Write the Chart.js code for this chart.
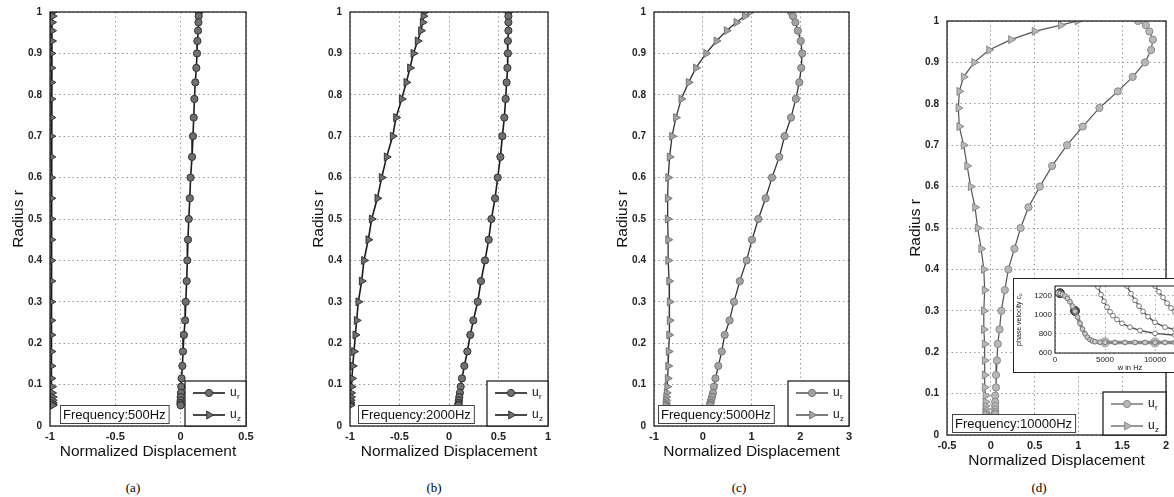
<!DOCTYPE html>
<html>
<head>
<meta charset="utf-8">
<script src="https://cdn.jsdelivr.net/npm/chart.js@4.4.1/dist/chart.umd.min.js"></script>
<style>
html,body{margin:0;padding:0;background:#fff;}
#wrap{position:relative;width:1174px;height:497px;overflow:hidden;background:#fff;}
canvas{position:absolute;}
.cap{position:absolute;top:480px;font:13px "Liberation Serif",serif;color:#000;transform:translateX(-50%);}
</style>
</head>
<body>
<div id="wrap">
  <canvas id="pa"></canvas>
  <canvas id="pb"></canvas>
  <canvas id="pc"></canvas>
  <canvas id="pd"></canvas>
  <canvas id="inset"></canvas>
  <div class="cap" style="left:133px">(a)</div>
  <div class="cap" style="left:434px">(b)</div>
  <div class="cap" style="left:739px">(c)</div>
  <div class="cap" style="left:1039px">(d)</div>
</div>
<script>
// radial grid (same for every panel)
const radius = [1.0, 0.99, 0.975, 0.955, 0.93, 0.90, 0.865, 0.83, 0.79, 0.745, 0.70, 0.65, 0.60, 0.55, 0.50, 0.45,
  0.40, 0.35, 0.30, 0.255, 0.22, 0.18, 0.145, 0.115, 0.095, 0.08, 0.07, 0.062, 0.056, 0.052, 0.05]

// (a) 500 Hz
const urA = [0.14, 0.138, 0.136, 0.133, 0.128, 0.125, 0.12, 0.112, 0.105, 0.1, 0.094, 0.087, 0.076, 0.07, 0.062, 0.056,
  0.051, 0.046, 0.039, 0.034, 0.025, 0.018, 0.013, 0.007, 0.004, 0.002, 0.0, 0.0, -0.002, 0.0, 0.0]
const uzA = [-0.98, -0.98, -0.985, -0.985, -0.985, -0.99, -0.99, -0.99, -0.99, -0.99, -0.99, -0.99, -0.99, -0.99, -0.99, -0.99,
  -0.99, -0.99, -0.99, -0.99, -0.99, -0.99, -0.99, -0.99, -0.985, -0.985, -0.98, -0.98, -0.98, -0.98, -0.98]

// (b) 2000 Hz
const urB = [0.60, 0.60, 0.60, 0.60, 0.595, 0.595, 0.59, 0.582, 0.572, 0.559, 0.539, 0.519, 0.492, 0.465, 0.428, 0.401,
  0.364, 0.323, 0.29, 0.246, 0.215, 0.185, 0.155, 0.131, 0.118, 0.11, 0.104, 0.1, 0.097, 0.095, 0.094]
const uzB = [-0.249, -0.258, -0.266, -0.283, -0.317, -0.36, -0.394, -0.431, -0.478, -0.535, -0.569, -0.63, -0.68, -0.724, -0.781, -0.815,
  -0.859, -0.882, -0.916, -0.933, -0.946, -0.96, -0.973, -0.98, -0.985, -0.99, -0.99, -0.993, -0.995, -0.996, -0.997]

// (c) 5000 Hz
const urC = [1.81, 1.85, 1.90, 1.95, 2.01, 2.04, 2.02, 1.98, 1.91, 1.81, 1.68, 1.57, 1.42, 1.29, 1.14, 1.01,
  0.90, 0.76, 0.64, 0.55, 0.45, 0.39, 0.32, 0.26, 0.23, 0.21, 0.19, 0.17, 0.16, 0.15, 0.15]
const uzC = [0.97, 0.86, 0.69, 0.49, 0.28, 0.07, -0.14, -0.29, -0.44, -0.55, -0.63, -0.68, -0.71, -0.72, -0.72, -0.71,
  -0.71, -0.69, -0.68, -0.68, -0.69, -0.70, -0.71, -0.72, -0.73, -0.74, -0.75, -0.75, -0.76, -0.76, -0.76]

// (d) 10000 Hz
const urD = [1.68, 1.77, 1.81, 1.85, 1.83, 1.76, 1.62, 1.45, 1.24, 1.05, 0.87, 0.70, 0.56, 0.43, 0.34, 0.27,
  0.20, 0.16, 0.12, 0.10, 0.08, 0.07, 0.06, 0.06, 0.05, 0.05, 0.05, 0.05, 0.05, 0.05, 0.05]
const uzD = [0.99, 0.80, 0.50, 0.23, -0.02, -0.19, -0.31, -0.36, -0.37, -0.36, -0.31, -0.27, -0.23, -0.18, -0.15, -0.11,
  -0.08, -0.07, -0.08, -0.08, -0.07, -0.07, -0.07, -0.07, -0.06, -0.06, -0.06, -0.06, -0.06, -0.06, -0.06]

const freqLabels = ["Frequency:500Hz", "Frequency:2000Hz", "Frequency:5000Hz", "Frequency:10000Hz"]

// inset: phase velocity vs frequency
const mode1F = [0, 250, 500, 750, 1000, 1250, 1500, 1750, 2000, 2250, 2500, 2750, 3000, 3250, 3500, 3750, 4000, 4500, 5000,
  6000, 7000, 8000, 9000, 10000, 11000, 12000, 13000, 14000, 15000]
const mode1C = [1230, 1228, 1222, 1212, 1195, 1170, 1135, 1090, 1035, 975, 910, 850, 800, 765, 740, 725, 718, 713, 712,
  711, 710, 710, 710, 710, 710, 710, 710, 710, 710]
const mode2F = [4300, 4600, 4900, 5200, 5500, 5800, 6200, 6700, 7500, 8500, 10000, 12000, 15000]
const mode2C = [1290, 1210, 1140, 1080, 1030, 990, 950, 910, 870, 835, 805, 785, 770]
const mode3F = [7200, 7600, 8000, 8400, 8800, 9300, 10000, 11000, 12000, 15000]
const mode3C = [1300, 1220, 1150, 1090, 1035, 980, 920, 870, 845, 800]
const mode4F = [10000, 10400, 10800, 11200, 11600, 12000, 13000, 15000]
const mode4C = [1300, 1240, 1180, 1120, 1070, 1030, 960, 880]
const markF = [500, 2000, 5000, 10000]
const markC = [1225, 1040, 712, 710]

Chart.defaults.font.family = '"Liberation Sans", Arial, sans-serif'
Chart.defaults.color = "#111"
Chart.defaults.animation = false

const Y_W = 45, X_H = 39, PAD_T = 8, PAD_R = 10

const pts = (xs, ys) => xs.map((x, i) => ({x: x, y: ys[i]}))
const fmt = v => String(+(+v).toFixed(2))

const decor = {
  id: "decor",
  beforeDraw(chart, args, opts){
    if(opts.bg){
      const ctx = chart.ctx
      ctx.save()
      ctx.fillStyle = "#fff"
      ctx.fillRect(0, 0, chart.width, opts.boxH)
      ctx.strokeStyle = "#222"
      ctx.lineWidth = 1
      ctx.strokeRect(0.5, 0.5, chart.width, opts.boxH - 1)
      ctx.restore()
    }
  },
  afterDraw(chart, args, opts){
    const ctx = chart.ctx
    const a = chart.chartArea
    ctx.save()
    ctx.strokeStyle = "#111"
    ctx.lineWidth = opts.frameW || 1.2
    ctx.strokeRect(a.left, a.top, a.right - a.left, a.bottom - a.top)

    if(opts.freq){
      ctx.font = '13px "Liberation Sans", Arial, sans-serif'
      const w = ctx.measureText(opts.freq).width + 6
      const x = a.left + opts.freqX
      const y = a.bottom - 21 + (opts.freqDy || 0)
      ctx.fillStyle = "#fff"
      ctx.fillRect(x, y, w, 18)
      ctx.strokeStyle = "#444"
      ctx.lineWidth = 1
      ctx.strokeRect(x + 0.5, y + 0.5, w, 18)
      ctx.fillStyle = "#111"
      ctx.textBaseline = "middle"
      ctx.fillText(opts.freq, x + 3, y + 10)
    }

    if(opts.legend){
      const lw = opts.legW, lh = opts.legH
      const x = a.right - lw, y = a.bottom - lh
      ctx.fillStyle = "#fff"
      ctx.fillRect(x, y, lw, lh)
      ctx.strokeStyle = "#111"
      ctx.lineWidth = 1.2
      ctx.strokeRect(x, y, lw, lh)
      chart.data.datasets.forEach((ds, i) => {
        const cy = y + 12 + i * 22
        ctx.strokeStyle = ds.borderColor
        ctx.lineWidth = ds.borderWidth
        ctx.beginPath()
        ctx.moveTo(x + 8, cy)
        ctx.lineTo(x + 40, cy)
        ctx.stroke()
        ctx.fillStyle = ds.pointBackgroundColor
        ctx.strokeStyle = ds.pointBorderColor
        ctx.lineWidth = 1
        Chart.helpers.drawPoint(ctx, {pointStyle: ds.pointStyle, rotation: ds.pointRotation || 0,
          radius: ds.pointRadius, borderWidth: 1}, x + 24, cy)
        ctx.fillStyle = "#111"
        ctx.textBaseline = "middle"
        ctx.font = '12px "Liberation Sans", Arial, sans-serif'
        ctx.fillText("u", x + 45, cy)
        ctx.font = '8px "Liberation Sans", Arial, sans-serif'
        ctx.fillText(ds.label.slice(2), x + 52, cy + 4)
      })
    }
    ctx.restore()
  }
}

function placeCanvas(el, left, top, w, h){
  el.width = w
  el.height = h
  el.style.left = left + "px"
  el.style.top = top + "px"
  el.style.width = w + "px"
  el.style.height = h + "px"
}

function makePanel(id, box, xr, ur, uz, freq, look){

  const el = document.getElementById(id)
  placeCanvas(el, box.l - Y_W, box.t - PAD_T, Y_W + (box.r - box.l) + PAD_R, PAD_T + (box.b - box.t) + X_H)

  const gridOpts = {color: "#9a9a9a", lineWidth: 1, drawTicks: false}

  return new Chart(el, {
    type: "scatter",
    data: {
      datasets: [
        {
          label: "u_r",
          data: pts(ur, radius),
          showLine: true,
          borderColor: look.line,
          borderWidth: look.lw,
          pointStyle: "circle",
          pointRadius: 3.6,
          pointBackgroundColor: look.fill,
          pointBorderColor: look.edge,
          pointBorderWidth: 1
        },
        {
          label: "u_z",
          data: pts(uz, radius),
          showLine: true,
          borderColor: look.line,
          borderWidth: look.lw,
          pointStyle: "triangle",
          pointRotation: 90,
          pointRadius: 4.6,
          pointBackgroundColor: look.fill,
          pointBorderColor: look.edge,
          pointBorderWidth: 1
        }
      ]
    },
    options: {
      responsive: false,
      layout: {padding: {top: PAD_T, right: PAD_R, left: 0, bottom: 0}},
      plugins: {
        legend: {display: false},
        tooltip: {enabled: false},
        decor: {freq: freq, freqX: look.freqX, legend: true, legW: look.legW, legH: look.legH}
      },
      scales: {
        x: {
          type: "linear",
          min: xr[0], max: xr[1],
          grid: gridOpts,
          border: {display: false, dash: [1.5, 3]},
          ticks: {stepSize: xr[2], padding: 4, font: {size: 11, weight: "bold"}, color: "#222", callback: fmt, maxRotation: 0},
          title: {display: true, text: "Normalized Displacement", font: {size: 15.5}, color: "#111", padding: {top: 4, bottom: 4}},
          afterFit(s){ s.height = X_H; s.paddingLeft = 0; s.paddingRight = 0 }
        },
        y: {
          type: "linear",
          min: 0, max: 1,
          grid: gridOpts,
          border: {display: false, dash: [1.5, 3]},
          ticks: {stepSize: 0.1, padding: 8, font: {size: 10, weight: "bold"}, color: "#222", callback: fmt},
          title: {display: true, text: "Radius r", font: {size: 15.5}, color: "#111", padding: {top: 4, bottom: 4}},
          afterFit(s){ s.width = Y_W; s.paddingTop = 0; s.paddingBottom = 0 }
        }
      }
    },
    plugins: [decor]
  })
}

const darkLook = {line: "#1a1a1a", lw: 1.6, fill: "#707070", edge: "#333", freqX: 10, legW: 61, legH: 45}
const midLook = {line: "#333", lw: 1.3, fill: "#a3a3a3", edge: "#777", freqX: 4, legW: 61, legH: 45}
const lightLook = {line: "#555", lw: 1.2, fill: "#b8b8b8", edge: "#8a8a8a", freqX: 5, legW: 63, legH: 43}

makePanel("pa", {l: 50, t: 12, r: 246, b: 426}, [-1, 0.5, 0.5], urA, uzA, freqLabels[0], darkLook)
makePanel("pb", {l: 350, t: 12, r: 548, b: 426}, [-1, 1, 0.5], urB, uzB, freqLabels[1], Object.assign({}, darkLook, {freqX: 8}))
makePanel("pc", {l: 654, t: 12, r: 849, b: 426}, [-1, 3, 1], urC, uzC, freqLabels[2], midLook)
makePanel("pd", {l: 947, t: 21, r: 1166, b: 435}, [-0.5, 2, 0.5], urD, uzD, freqLabels[3], lightLook)

// inset in panel (d)
const insetEl = document.getElementById("inset")
placeCanvas(insetEl, 1013, 278, 200, 95)

const hollow = (f, c) => ({
  data: pts(f, c),
  showLine: true,
  borderColor: "#555",
  borderWidth: 1.5,
  pointRadius: 2.4,
  pointBackgroundColor: "#fff",
  pointBorderColor: "#777",
  pointBorderWidth: 1
})

new Chart(insetEl, {
  type: "scatter",
  data: {
    datasets: [
      Object.assign(hollow(mode1F, mode1C), {borderColor: "#888", borderWidth: 3.5, pointBackgroundColor: "#ccc"}),
      hollow(mode2F, mode2C),
      hollow(mode3F, mode3C),
      hollow(mode4F, mode4C),
      {
        data: pts(markF, markC),
        showLine: false,
        pointRadius: 4.5,
        pointBackgroundColor: ["#555", "#555", "#c4c4c4", "#c4c4c4"],
        pointBorderColor: ["#333", "#333", "#999", "#999"],
        pointBorderWidth: 1
      }
    ]
  },
  options: {
    responsive: false,
    layout: {padding: {top: 8, right: 8, left: 0, bottom: 0}},
    plugins: {
      legend: {display: false},
      tooltip: {enabled: false},
      decor: {bg: true, boxH: 95, frameW: 1}
    },
    scales: {
      x: {
        type: "linear", min: 0, max: 15000,
        grid: {color: "#aaa", drawTicks: false},
        border: {display: false, dash: [1.5, 3]},
        ticks: {stepSize: 5000, padding: 2, font: {size: 8}, color: "#222", maxRotation: 0, callback: v => String(v)},
        title: {display: true, text: "w in Hz", font: {size: 7.5}, color: "#111", padding: {top: 1, bottom: 1}},
        afterFit(s){ s.height = 20; s.paddingLeft = 0; s.paddingRight = 0 }
      },
      y: {
        type: "linear", min: 600, max: 1300,
        grid: {color: "#aaa", drawTicks: false},
        border: {display: false, dash: [1.5, 3]},
        afterBuildTicks(s){ s.ticks = s.ticks.filter(t => t.value % 200 === 0) },
        ticks: {stepSize: 200, padding: 3, font: {size: 8}, color: "#222", callback: v => String(v)},
        title: {display: true, text: "phase velocity c\u209A", font: {size: 7}, color: "#111", padding: {top: 2, bottom: 2}},
        afterFit(s){ s.width = 42; s.paddingTop = 0; s.paddingBottom = 0 }
      }
    }
  },
  plugins: [decor]
})
</script>
</body>
</html>
